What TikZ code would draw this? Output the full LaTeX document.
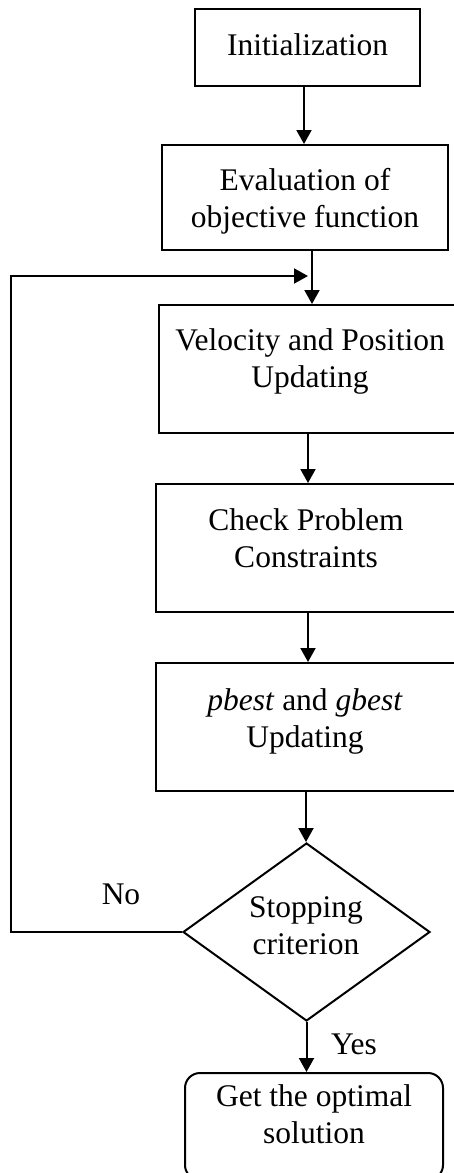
\documentclass[tikz,border=0pt]{standalone}
\usepackage{fontspec}
\setmainfont{Liberation Serif}
\usetikzlibrary{arrows.meta,shapes.geometric}
\newcommand{\twoln}[2]{\begin{tabular}[t]{@{}c@{}}#1\\#2\end{tabular}}
\begin{document}
\begin{tikzpicture}[x=1pt,y=-1pt,
  box/.style={draw,line width=2pt,inner sep=0pt},
  txt/.style={anchor=base,inner sep=0pt,font=\fontsize{31.5}{37}\selectfont},
  arr/.style={line width=2pt,-{Triangle[length=14pt,width=15pt]}}]
\useasboundingbox (0,0) rectangle (454,1173);
% boxes
\node[box,minimum width=225pt,minimum height=77pt] (init) at (307.5,47.5) {};
\node[txt] (tinit) at (307.5,55) {Initialization};
\node[box,minimum width=286pt,minimum height=105pt] (eval) at (305,197.5) {};
\node[txt] (teval) at (305,190.7) {\twoln{Evaluation of}{objective function}};
\node[box,minimum width=302pt,minimum height=128pt] (vel) at (310,369) {};
\node[txt] (tvel) at (310,350.7) {\twoln{Velocity and Position}{Updating}};
\node[box,minimum width=300pt,minimum height=128pt] (chk) at (306,548) {};
\node[txt] (tchk) at (306,530.7) {\twoln{Check Problem}{Constraints}};
\node[box,minimum width=300pt,minimum height=128pt] (pb) at (306,727) {};
\node[txt] (tpb) at (305,710) {\twoln{\textit{pbest} and \textit{gbest}}{Updating}};
\node[box,shape=diamond,aspect=1.39,minimum width=247pt,minimum height=178pt] (dia) at (306.5,932) {};
\node[txt] (tdia) at (306,917) {\twoln{Stopping}{criterion}};
\node[box,rounded corners=15pt,minimum width=258pt,minimum height=107pt] (fin) at (314,1126.5) {};
\node[txt] (tfin) at (314,1106.3) {\twoln{Get the optimal}{solution}};
\node[txt] (no) at (121,904.7) {No};
\node[txt] (yes) at (354,1054.7) {Yes};
% connectors
\draw[arr] ([xshift=-3.5pt]init.south) -- ([xshift=-3.5pt]init.south |- eval.north);
\draw[arr] ([xshift=7pt]eval.south) -- ([xshift=7pt]eval.south |- vel.north);
\draw[arr] ([xshift=-2pt]vel.south) -- ([xshift=-2pt]vel.south |- chk.north);
\draw[arr] ([xshift=2pt]chk.south) -- ([xshift=2pt]chk.south |- pb.north);
\draw[arr] (pb.south) -- (pb.south |- dia.north);
\draw[arr] (dia.south) -- (dia.south |- fin.north);
\coordinate (c1) at (11,932);
\coordinate (c2) at (11,276);
\coordinate (c3) at (308,276);
\draw[arr] (dia.west) -- (c1) -- (c2) -- (c3);
\end{tikzpicture}
\end{document}
